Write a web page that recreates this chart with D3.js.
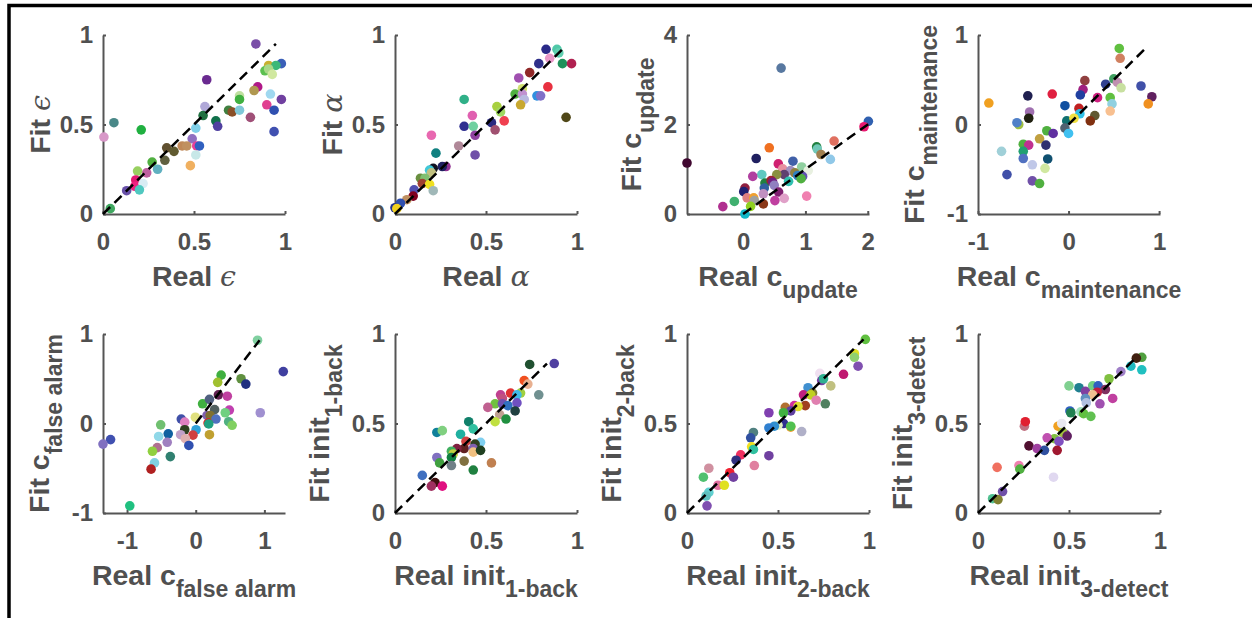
<!DOCTYPE html>
<html>
<head>
<meta charset="utf-8">
<script src="https://cdn.jsdelivr.net/npm/d3@7"></script>
<style>
  body { margin: 0; background: #fff; }
  svg text { font-family: "Liberation Sans", Arial, Helvetica, sans-serif; font-weight: bold; fill: #505050; }
</style>
</head>
<body>
<div id="chart"></div>
<script>
// values, one x / y / colour list per panel
const epsReal = [0.84,0.98,0.91,0.95,0.89,0.91,0.93,0.57,0.85,0.83,0.75,0.75,0.92,0.98,0.90,0.94,0.56,0.55,0.69,0.71,0.75,0.81,0.62,0.63,0.94,0.51,0.49,0.515,0.53,0.51,0.48,0.435,0.46,0.35,0.39,0.34,0.27,0.30,0.24,0.19,0.18,0.175,0.22,0.20,0.13,0.04,0.06,0.21,0.005]
const epsFit = [0.95,0.84,0.83,0.83,0.80,0.81,0.78,0.75,0.71,0.69,0.66,0.64,0.67,0.64,0.61,0.58,0.60,0.55,0.58,0.57,0.58,0.54,0.52,0.49,0.46,0.48,0.42,0.38,0.38,0.33,0.27,0.38,0.38,0.37,0.35,0.30,0.29,0.25,0.23,0.24,0.19,0.155,0.17,0.135,0.13,0.03,0.51,0.47,0.43]
const epsColor = ['#7a4fa8','#3a5fb8','#c8b030','#3cb878','#5cc050','#a8d888','#d0e8a0','#6a2a90','#b01888','#b09850','#c0e0a0','#40b040','#a0d8f0','#7040a0','#e04090','#3050b0','#b0a8d8','#207040','#408040','#8a5028','#80c8d8','#a05078','#10704a','#5040a0','#4050b0','#80d0e8','#9070c0','#e8409a','#3060c0','#c8e8e8','#f0b060','#c08858','#c09060','#605030','#605a30','#606040','#50b040','#60b0c0','#c060a0','#98d060','#e01870','#f02080','#d8ecf4','#50c8c0','#6850a8','#40a860','#4a8888','#20b040','#d898c8']

const alphaReal = [0.83,0.89,0.90,0.85,0.92,0.97,0.79,0.74,0.68,0.84,0.70,0.66,0.70,0.78,0.80,0.71,0.69,0.38,0.56,0.58,0.60,0.53,0.55,0.425,0.38,0.43,0.44,0.20,0.35,0.44,0.225,0.28,0.26,0.21,0.19,0.20,0.14,0.165,0.15,0.19,0.21,0.105,0.10,0.065,0.03,0.00,0.01,0.94]
const alphaFit = [0.92,0.92,0.90,0.87,0.84,0.84,0.84,0.79,0.76,0.71,0.70,0.67,0.67,0.66,0.66,0.64,0.61,0.64,0.60,0.57,0.52,0.51,0.47,0.55,0.49,0.49,0.44,0.44,0.38,0.33,0.34,0.265,0.265,0.255,0.245,0.23,0.20,0.20,0.17,0.165,0.13,0.135,0.10,0.08,0.06,0.035,0.03,0.54]
const alphaColor = ['#2a2a88','#50c8a8','#60d0b0','#e898c8','#20905a','#b02050','#30308a','#902828','#a050b0','#e83040','#d0e070','#50b040','#c090d0','#3090e0','#8070c8','#b8b8e0','#c8a830','#30b088','#a8d040','#a0d860','#f04050','#2a2a80','#a05070','#e060b0','#303090','#70d0a0','#9040a0','#e868b0','#b08898','#7050a8','#108080','#903090','#202060','#101020','#40c8d8','#c0c080','#6a9040','#80c070','#a04030','#f0e020','#a0b8b8','#5050b0','#800020','#c09060','#3050b0','#203090','#f0d020','#504818']

const updReal = [0.61,2.01,1.94,1.46,1.18,1.19,1.25,1.40,0.42,0.21,0.80,0.565,0.635,0.94,1.045,0.76,0.83,0.66,0.54,0.875,0.955,0.93,0.30,0.155,0.35,0.45,0.475,0.34,0.50,0.73,0.03,0.01,0.325,0.57,0.065,0.17,0.18,0.66,0.51,1.02,0.325,0.12,-0.14,-0.325,0.03,-0.9]
const updFit = [3.26,2.07,1.95,1.63,1.50,1.45,1.33,1.22,1.48,1.24,1.18,1.12,1.01,1.05,0.97,0.97,0.92,0.88,0.88,0.86,0.84,0.79,0.88,0.84,0.69,0.75,0.71,0.58,0.64,0.73,0.58,0.50,0.45,0.49,0.36,0.36,0.30,0.35,0.30,0.40,0.225,0.17,0.28,0.165,0.0,1.14]
const updColor = ['#5878a0','#3060b0','#e81870','#e07060','#208040','#70c8b8','#a08050','#90c8e8','#f07020','#202060','#4060a8','#d02070','#e890a0','#90d0a0','#e8f0e0','#a090c0','#908040','#604070','#8a9040','#3080c0','#6050b0','#50b040','#60c8c0','#b040a0','#208040','#a02030','#702080','#3060a0','#9080c0','#30c0b0','#902040','#202070','#c090c0','#802070','#e08080','#f0a030','#a0a0a0','#e0a0c8','#c040a0','#f080b0','#8a3818','#90d020','#40b070','#b03090','#10b8c8','#400830']

const mntReal = [0.56,0.57,0.50,0.54,0.58,0.41,0.18,0.16,0.13,0.32,0.46,0.48,0.80,0.92,0.88,0.46,0.29,0.24,0.115,0.125,-0.04,-0.02,0.06,-0.04,0.0,-0.18,-0.45,-0.43,-0.44,-0.55,-0.57,-0.88,-0.24,-0.17,-0.32,-0.25,-0.50,-0.44,-0.50,-0.74,-0.50,-0.23,-0.40,-0.26,-0.68,-0.40,-0.32]
const mntFit = [0.85,0.74,0.51,0.47,0.41,0.45,0.49,0.39,0.33,0.30,0.30,0.23,0.43,0.31,0.23,0.15,0.10,0.04,0.18,0.12,0.21,0.04,0.07,-0.04,-0.10,0.34,0.32,0.14,0.07,0.0,0.02,0.24,-0.07,-0.10,-0.16,-0.23,-0.22,-0.23,-0.30,-0.30,-0.38,-0.385,-0.45,-0.49,-0.56,-0.63,-0.66]
const mntColor = ['#60c040','#d08060','#40a060','#c090b0','#c8e0a0','#304090','#904040','#a02080','#2040a0','#d02080','#60c040','#90d0e0','#4050a8','#602060','#f09020','#f8c090','#605830','#803010','#c02020','#30c0e8','#1050a0','#107070','#f0e040','#506070','#40c0f0','#e02040','#202050','#a070b0','#202010','#a0c040','#5080c8','#f0a020','#50b040','#6030a0','#c0a040','#303070','#50b040','#c03090','#20a070','#a0d0d8','#5070c0','#105070','#c0c8e8','#d0e8a0','#4050a8','#7050a8','#50b040']

const faReal = [0.90,1.275,0.37,0.32,0.66,0.73,0.33,0.46,0.10,0.20,0.275,0.49,0.43,0.94,-0.005,0.165,0.21,0.295,0.48,0.53,-0.21,-0.16,0.18,0.19,-0.51,-0.16,0.005,0.20,-0.04,-0.22,-0.15,-0.40,-0.54,-0.415,-0.10,-0.56,-0.63,-0.37,-0.60,-0.65,-1.24,-1.35,-0.96]
const faFit = [0.93,0.58,0.54,0.46,0.50,0.44,0.32,0.305,0.22,0.27,0.155,0.15,0.12,0.12,0.07,0.09,0.09,0.05,0.02,-0.02,0.05,0.015,0.005,-0.005,-0.015,-0.07,-0.07,-0.125,-0.13,-0.125,-0.17,-0.115,-0.145,-0.21,-0.245,-0.27,-0.31,-0.37,-0.44,-0.51,-0.18,-0.23,-0.92]
const faColor = ['#80d0a0','#4040a0','#40b040','#a0c030','#609040','#203080','#602050','#c040a0','#40b040','#506080','#506060','#c040b0','#70d080','#a090d0','#e0e080','#8060b0','#807030','#5070c0','#50b080','#80d060','#4050a8','#e080c0','#e02020','#20a080','#70c070','#304020','#30a0d8','#c0a030','#d04040','#c0a0c8','#e0b0b0','#1060a0','#90d8e8','#a080c0','#3050b0','#b07090','#90d040','#308070','#80d0e0','#b02020','#4050b0','#8070c0','#20c080']

const init1Real = [0.74,0.875,0.71,0.73,0.635,0.69,0.67,0.79,0.58,0.59,0.55,0.59,0.62,0.67,0.51,0.66,0.575,0.61,0.55,0.405,0.43,0.36,0.23,0.26,0.39,0.47,0.44,0.38,0.34,0.31,0.32,0.43,0.43,0.47,0.23,0.31,0.245,0.38,0.53,0.31,0.43,0.15,0.22,0.20,0.26]
const init1Fit = [0.83,0.835,0.74,0.72,0.67,0.67,0.66,0.66,0.66,0.64,0.61,0.61,0.60,0.615,0.59,0.57,0.55,0.525,0.51,0.51,0.47,0.44,0.45,0.46,0.40,0.395,0.385,0.36,0.36,0.345,0.33,0.36,0.34,0.35,0.31,0.31,0.28,0.29,0.28,0.265,0.24,0.21,0.17,0.15,0.15]
const init1Color = ['#205030','#5040a0','#f05020','#e8b090','#e03030','#a0d040','#40b8e8','#709090','#c04090','#c05080','#70c040','#7050b0','#3070c0','#7050c0','#c06090','#204040','#c0a090','#209040','#c0e040','#10806a','#30c0a0','#20b0a0','#10809a','#80d080','#d04040','#80d0f0','#304020','#602020','#802040','#40b060','#c0d040','#8060b0','#f0c080','#204020','#8070c0','#108040','#40a040','#807040','#c08050','#708088','#208040','#4070c0','#401010','#a03060','#e01080']

const init2Real = [0.98,0.92,0.92,0.94,0.86,0.73,0.74,0.75,0.79,0.665,0.64,0.69,0.68,0.71,0.76,0.65,0.59,0.54,0.61,0.57,0.53,0.45,0.53,0.50,0.48,0.45,0.57,0.57,0.63,0.365,0.35,0.355,0.365,0.295,0.45,0.27,0.37,0.235,0.255,0.17,0.205,0.09,0.12,0.12,0.105,0.11]
const init2Fit = [0.97,0.89,0.87,0.82,0.775,0.78,0.74,0.75,0.71,0.70,0.66,0.67,0.66,0.63,0.61,0.60,0.60,0.59,0.595,0.57,0.56,0.56,0.50,0.49,0.485,0.475,0.48,0.485,0.455,0.45,0.42,0.37,0.355,0.325,0.32,0.295,0.265,0.225,0.20,0.155,0.155,0.20,0.25,0.115,0.095,0.04]
const init2Color = ['#60c040','#e0e020','#90d070','#8050b0','#c01870','#f0e0f0','#7040a0','#30b090','#c0c080','#4090d0','#c02080','#808030','#c0d020','#e080b0','#508060','#a04020','#d030a0','#b07030','#e0e030','#6040a0','#40b040','#8040b0','#303090','#e0f0c0','#3090d0','#3080d0','#f0a030','#50c050','#b0b0c8','#508080','#3050a0','#f0e020','#30c0a0','#f03060','#7040a0','#303080','#e080a0','#f02030','#7040a0','#e070a0','#e0e020','#50c070','#d090a0','#60d0d0','#60c0c0','#8050b0']

const init3Real = [0.90,0.87,0.84,0.90,0.785,0.72,0.50,0.555,0.63,0.66,0.70,0.655,0.59,0.63,0.59,0.595,0.74,0.67,0.505,0.51,0.565,0.58,0.62,0.44,0.46,0.255,0.26,0.48,0.465,0.49,0.42,0.38,0.445,0.28,0.325,0.365,0.435,0.415,0.105,0.225,0.23,0.135,0.08,0.11]
const init3Fit = [0.87,0.865,0.82,0.80,0.79,0.75,0.71,0.70,0.71,0.71,0.69,0.675,0.68,0.66,0.64,0.615,0.64,0.61,0.57,0.56,0.565,0.555,0.54,0.485,0.50,0.485,0.51,0.44,0.45,0.43,0.415,0.42,0.40,0.375,0.36,0.35,0.35,0.20,0.255,0.265,0.245,0.12,0.08,0.075]
const init3Color = ['#50a040','#402010','#20b8c0','#20c0c0','#a080c8','#80c040','#80d090','#208090','#70d080','#3060c0','#803060','#c02040','#8040a0','#f0c090','#6090c0','#b0c0e0','#c040a0','#a050b0','#3060c0','#208050','#a0e0c0','#60c040','#60c050','#f0a020','#e8e8f0','#c07080','#e02030','#8040a0','#a0c040','#602060','#80c040','#c050b0','#8050c0','#501030','#a040a0','#3050a0','#a01830','#e0d8f0','#f07060','#f080b0','#50b040','#7050a8','#50c090','#808030']

const xDomains = [[0,1],[0,1],[-0.9,2.02],[-1,1.01],[-1.35,1.3],[0,1],[0,1],[0,1]]
const yDomains = [[0,1],[0,1],[0,4],[-1,1],[-1,1],[0,1],[0,1],[0,1]]
const xTickVals = [[0,0.5,1],[0,0.5,1],[0,1,2],[-1,0,1],[-1,0,1],[0,0.5,1],[0,0.5,1],[0,0.5,1]]
const yTickVals = [[0,0.5,1],[0,0.5,1],[0,2,4],[-1,0,1],[-1,0,1],[0,0.5,1],[0,0.5,1],[0,0.5,1]]
const labelBase = ['','','c','c','c','init','init','init']
const labelSym = ['\u03f5','\u03b1','','','','','','']
const labelSub = ['','','update','maintenance','false alarm','1-back','2-back','3-detect']

const panels = [
  [epsReal, epsFit, epsColor],
  [alphaReal, alphaFit, alphaColor],
  [updReal, updFit, updColor],
  [mntReal, mntFit, mntColor],
  [faReal, faFit, faColor],
  [init1Real, init1Fit, init1Color],
  [init2Real, init2Fit, init2Color],
  [init3Real, init3Fit, init3Color]
]

const width = 1252, height = 618
const W = 182, H = 179
const colX = [103, 395, 687, 978], rowY = [35, 334]

const svg = d3.select('#chart').append('svg')
  .attr('width', width)
  .attr('height', height)

// figure frame (left and top edges only)
svg.append('path')
  .attr('d', `M9,${height}V5.5H${width}`)
  .attr('fill', 'none')
  .attr('stroke', '#000')
  .attr('stroke-width', 3.5)

const addLabel = (sel, word, i) => {
  sel.append('tspan').text(word + ' ' + labelBase[i])
  if (labelSym[i]) {
    sel.append('tspan').text(labelSym[i])
      .attr('font-family', 'DejaVu Serif')
      .attr('font-style', 'italic')
      .attr('font-weight', 'normal')
  }
  if (labelSub[i]) {
    sel.append('tspan').text(labelSub[i]).attr('font-size', 23).attr('dy', 12.5)
  }
}

panels.forEach(([real, fit, color], i) => {
  const g = svg.append('g')
    .attr('transform', `translate(${colX[i % 4]},${rowY[Math.floor(i / 4)]})`)

  const x = d3.scaleLinear().domain(xDomains[i]).range([0, W])
  const y = d3.scaleLinear().domain(yDomains[i]).range([H, 0])

  const xAxis = g.append('g')
    .attr('transform', `translate(0,${H})`)
    .call(d3.axisBottom(x).tickValues(xTickVals[i]).tickSizeInner(-3).tickSizeOuter(0)
      .tickPadding(18.5).tickFormat(d => String(d)))
  const yAxis = g.append('g')
    .call(d3.axisLeft(y).tickValues(yTickVals[i]).tickSizeInner(-3).tickSizeOuter(0)
      .tickPadding(10).tickFormat(d => String(d)))

  ;[xAxis, yAxis].forEach(a => {
    a.select('.domain').attr('stroke', '#555').attr('stroke-width', 2)
    a.selectAll('.tick line').attr('stroke', '#555').attr('stroke-width', 2)
    a.selectAll('text').attr('font-size', 24)
  })

  g.selectAll('circle')
    .data(d3.range(real.length))
    .enter()
    .append('circle')
    .attr('cx', k => x(real[k]))
    .attr('cy', k => y(fit[k]))
    .attr('r', 4.8)
    .attr('fill', k => color[k])

  // identity line up to the smaller of the two maxima
  const m = Math.min(d3.max(real), d3.max(fit))
  g.append('line')
    .attr('x1', x(0)).attr('y1', y(0))
    .attr('x2', x(m)).attr('y2', y(m))
    .attr('stroke', '#000')
    .attr('stroke-width', 2.5)
    .attr('stroke-dasharray', '10,6')

  const xl = g.append('text')
    .attr('x', W / 2)
    .attr('y', H + 71.5)
    .attr('text-anchor', 'middle')
    .attr('font-size', 28.5)
    .style('white-space', 'pre')
  addLabel(xl, 'Real', i)

  const minX = d3.min(yAxis.selectAll('.tick text').nodes(), n => n.getBBox().x)
  const shift = labelSub[i] ? 12.5 : 0
  const yl = g.append('text')
    .attr('transform', `translate(${minX - 10 - shift},${H / 2}) rotate(-90)`)
    .attr('text-anchor', 'middle')
    .attr('font-size', 28.5)
    .style('white-space', 'pre')
  addLabel(yl, 'Fit', i)
})
</script>
</body>
</html>
